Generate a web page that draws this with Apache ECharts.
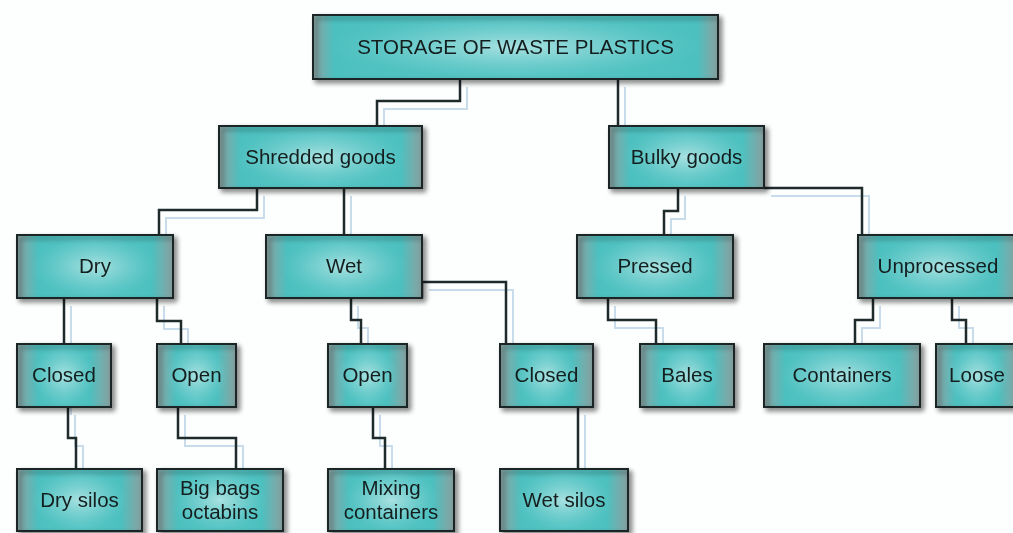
<!DOCTYPE html>
<html><head><meta charset="utf-8">
<script src="https://cdn.jsdelivr.net/npm/echarts@6/dist/echarts.min.js"></script>
<style>html,body{margin:0;padding:0;background:#fdfefe}#c{width:1013px;height:533px}</style>
</head><body><div id="c"></div>
<script>
// ---- diagram data (in diagram units, mapped through hidden value axes) ----
const nodeLabels = ['STORAGE OF WASTE PLASTICS','Shredded goods','Bulky goods','Dry','Wet','Pressed','Unprocessed',
  'Closed','Open','Open','Closed','Bales','Containers','Loose',
  'Dry silos','Big bags\noctabins','Mixing\ncontainers','Wet silos'];
const nodeLeft  = [313,219,609, 17,266,577,858,  17,157,328,500,640,764,936,  17,157,328,500];
const nodeRight = [718,422,764,173,422,733,1018, 111,236,407,593,734,920,1018, 142,283,454,628];
const nodeLevel = [0, 1,1, 2,2,2,2, 3,3,3,3,3,3,3, 4,4,4,4];
const levelTop    = [15,126,235,344,469];
const levelBottom = [79,188,298,407,531];

const edgeParent = [0,0,1,1,2,2,3,3,4,4,5,6,6,7,8,9,10];
const edgeChild  = [1,2,3,4,5,6,7,8,9,10,11,12,13,14,15,16,17];
const edgeExitX  = [460,618,257,344,678,764, 64,157,351,422,608,873,952, 68,178,373,578];
const edgeBendY  = [101, 79,210,298,211,188,407,321,320,282,320,320,320,438,438,438,407];
const edgeEntryX = [377,618,159,344,664,862, 64,181,361,506,656,855,966, 76,236,385,578];

const axisMaxX = 1013, axisMaxY = 533;

const chart = echarts.init(document.getElementById('c'));

const nodeData = nodeLabels.map((n,i)=>[nodeLeft[i], levelTop[nodeLevel[i]], nodeRight[i], levelBottom[nodeLevel[i]]]);
const edgeData = edgeParent.map((p,i)=>[edgeExitX[i], levelBottom[nodeLevel[p]], edgeBendY[i], edgeEntryX[i], levelTop[nodeLevel[edgeChild[i]]]]);

function edgePoints(api){
  const ex=api.value(0), py=api.value(1), by=api.value(2), nx=api.value(3), cy=api.value(4);
  return [api.coord([ex,py]), api.coord([ex,by]), api.coord([nx,by]), api.coord([nx,cy])];
}

chart.setOption({
  backgroundColor:'#fdfefe',
  animation:false,
  grid:{left:0,right:0,top:0,bottom:0},
  xAxis:{type:'value',min:0,max:axisMaxX,show:false},
  yAxis:{type:'value',min:0,max:axisMaxY,inverse:true,show:false},
  series:[
    {
      type:'custom', coordinateSystem:'cartesian2d', data:edgeData, z:1, silent:true,
      renderItem:(params,api)=>{
        const pts = edgePoints(api);
        let sh = pts.map(p=>[p[0]+7,p[1]+8]);
        if (api.value(2) <= api.value(1)) { sh = sh.slice(1); }
        return {type:'group',children:[
          {type:'polyline',shape:{points:sh},style:{stroke:'#c9dceb',lineWidth:2,fill:null}},
          {type:'polyline',shape:{points:pts},style:{stroke:'#1f2a2a',lineWidth:2.5,fill:null}}
        ]};
      }
    },
    {
      type:'custom', coordinateSystem:'cartesian2d', data:nodeData, z:3, silent:true,
      renderItem:(params,api)=>{
        const a = api.coord([api.value(0),api.value(1)]);
        const b = api.coord([api.value(2),api.value(3)]);
        const x=a[0], y=a[1], w=b[0]-a[0], h=b[1]-a[1];
        const e = Math.min(0.25, 22/w);
        const fill = new echarts.graphic.LinearGradient(0,0,1,0,[
          {offset:0,color:'#8a9c9c'},
          {offset:e*0.5,color:'#6fb0b0'},
          {offset:e,color:'#4cc0bf'},
          {offset:0.5,color:'#58c6c5'},
          {offset:1-e,color:'#4cc0bf'},
          {offset:1-e*0.5,color:'#6fb0b0'},
          {offset:1,color:'#8a9c9c'}
        ]);
        const glow = new echarts.graphic.RadialGradient(0.5,0.5,0.5,[
          {offset:0,color:'rgba(178,228,228,0.9)'},
          {offset:0.6,color:'rgba(150,218,218,0.35)'},
          {offset:1,color:'rgba(120,210,210,0)'}
        ]);
        const cx=x+w/2, cy=y+h/2;
        const label = nodeLabels[params.dataIndex];
        return {type:'group',children:[
          {type:'rect',shape:{x:x,y:y,width:w,height:h},
            style:{fill:fill,stroke:'#1b2525',lineWidth:2,shadowBlur:5,shadowOffsetX:3,shadowOffsetY:3,shadowColor:'rgba(0,0,0,0.45)'}},
          {type:'circle',shape:{cx:cx,cy:cy,r:h/2},scaleX:Math.max(1,(w-30)/h),scaleY:0.95,originX:cx,originY:cy,
            style:{fill:glow}},
          {type:'rect',shape:{x:x,y:y,width:w,height:h},style:{fill:null,stroke:'#1b2525',lineWidth:2}},
          {type:'text',style:{text:label,x:cx,y:cy+1,align:'center',verticalAlign:'middle',
            font:'20.5px "Liberation Sans", Arial, sans-serif',fill:'#141e1e',lineHeight:24}}
        ]};
      }
    }
  ]
});
</script></body></html>
